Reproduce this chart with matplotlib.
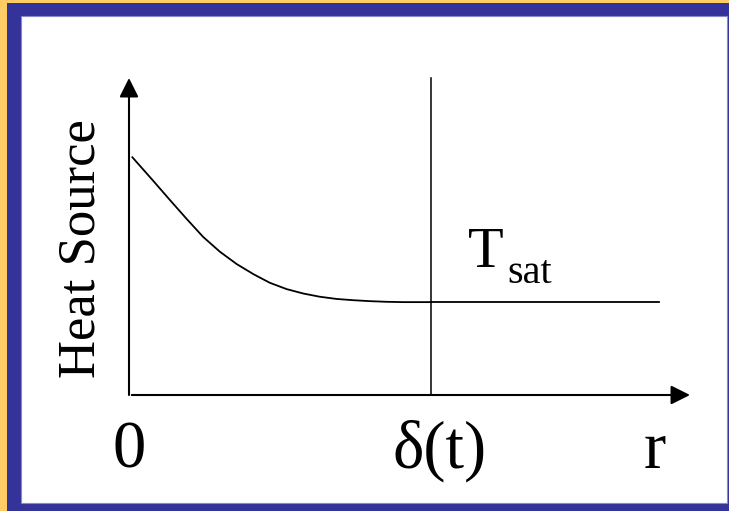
import matplotlib
matplotlib.use("Agg")
import matplotlib.pyplot as plt
from matplotlib.patches import Rectangle

# heat source profile (arbitrary units)
r_curve = [0.06, 0.43, 0.73, 1.03, 1.32, 1.62, 1.92, 2.22, 2.51, 2.81,
           3.11, 3.40, 3.70, 4.00, 4.30, 4.59, 4.89, 5.38]
q_curve = [7.50, 6.76, 6.15, 5.55, 4.99, 4.52, 4.13, 3.81, 3.54, 3.34,
           3.20, 3.10, 3.03, 2.99, 2.96, 2.94, 2.93, 2.93]
r_delta = 5.38
r_flat_end = 9.45
q_sat = 2.93

axis_xmax = 10.0
axis_ymax = 10.0

tick_labels = ["0", "\u03b4(t)", "r"]
tick_pos = [0.0, 5.53, 9.38]

W, H = 729, 511
fig = plt.figure(figsize=(W / 100, H / 100), dpi=100)
fig.patch.set_facecolor("#FFCC66")

# slide frame: blue band, then white panel
fig.patches.append(Rectangle((7 / W, 0), 722 / W, 508 / H, transform=fig.transFigure,
                             facecolor="#333399", edgecolor="none", zorder=-2))
fig.patches.append(Rectangle((21 / W, 8 / H), 706 / W, 487 / H, transform=fig.transFigure,
                             facecolor="white", edgecolor="#8888CC", linewidth=0.8, zorder=-1))

ax = fig.add_axes([129 / W, 116 / H, 561 / W, 317 / H])
ax.set_xlim(0, axis_xmax)
ax.set_ylim(0, axis_ymax)
ax.axis("off")
ax.patch.set_alpha(0)

serif = "Liberation Serif"

# axes with arrow heads
arrow = dict(arrowstyle="-|>,head_length=0.58,head_width=0.29", mutation_scale=20,
             lw=1.5, color="black", shrinkA=0, shrinkB=0)
ax.annotate("", xy=(0, axis_ymax), xytext=(0, 0), arrowprops=arrow, annotation_clip=False)
ax.annotate("", xy=(axis_xmax, 0), xytext=(0.05, 0), arrowprops=arrow, annotation_clip=False)

# heat source curve + flat saturation part
ax.plot(r_curve, q_curve, color="black", lw=1.3, clip_on=False)
ax.plot([r_delta, r_flat_end], [q_sat, q_sat], color="black", lw=1.3, clip_on=False)

# delta(t) marker
ax.plot([r_delta, r_delta], [0, axis_ymax], color="black", lw=1.1, clip_on=False)

# labels
for lab, xp in zip(tick_labels, tick_pos):
    ax.text(xp, -2.3, lab, fontsize=48, family=serif, ha="center", va="baseline")

ax.text(-0.85, 4.61, "Heat Source", fontsize=38, family=serif, rotation=90,
        ha="center", va="center")
ax.text(6.04, 4.05, "T", fontsize=42, family=serif, ha="left", va="baseline")
ax.text(6.74, 3.54, "sat", fontsize=29, family=serif, ha="left", va="baseline")

fig.savefig("out.png", dpi=100)
